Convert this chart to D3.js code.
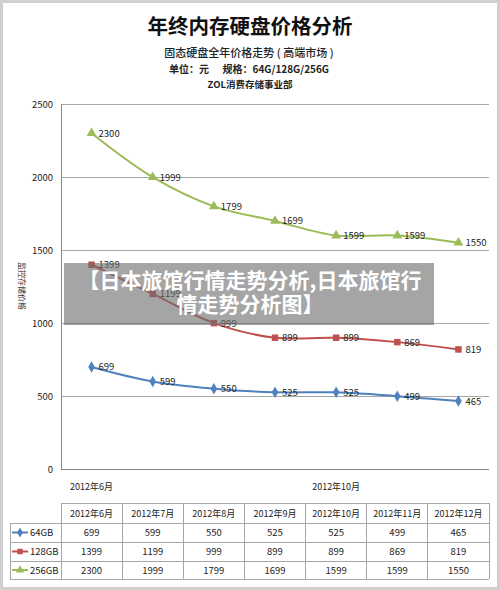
<!DOCTYPE html>
<html>
<head>
<meta charset="utf-8">
<script src="https://cdn.jsdelivr.net/npm/d3@7"></script>
<style>
  body { margin: 0; background: #fff; }
  svg { display: block; font-family: "Microsoft YaHei", "Noto Sans CJK SC", sans-serif; }
</style>
</head>
<body>
<svg width="500" height="590"></svg>
<script>
// data
var months = ["2012年6月", "2012年7月", "2012年8月", "2012年9月", "2012年10月", "2012年11月", "2012年12月"];
var series = ["64GB", "128GB", "256GB"];
var price64 = [699, 599, 550, 525, 525, 499, 465];
var price128 = [1399, 1199, 999, 899, 899, 869, 819];
var price256 = [2300, 1999, 1799, 1699, 1599, 1599, 1550];
var yTicks = [0, 500, 1000, 1500, 2000, 2500];
var axisMonths = ["2012年6月", "2012年10月"];

var colors = ["#4f81bd", "#c0504d", "#9bbb59"];
var shapes = [d3.symbolDiamond, d3.symbolSquare, d3.symbolTriangle];
var values = [price64, price128, price256];

var svg = d3.select("svg"),
    width = +svg.attr("width"),
    height = +svg.attr("height");

// outer frame
svg.append("rect").attr("x", 1.5).attr("y", 1.5).attr("width", width - 3).attr("height", height - 3)
    .attr("fill", "#fff").attr("stroke", "#cfcfcf").attr("stroke-width", 3);

// titles
svg.append("text").attr("x", 250).attr("y", 34).attr("text-anchor", "middle")
    .style("font-size", "20.5px").style("font-weight", "bold").attr("fill", "#111").text("年终内存硬盘价格分析");
svg.append("text").attr("x", 249).attr("y", 57).attr("text-anchor", "middle")
    .style("font-size", "11px").style("font-weight", "500").attr("fill", "#222")
    .attr("xml:space", "preserve").text("固态硬盘全年价格走势 ( 高端市场 )");
svg.append("text").attr("x", 249).attr("y", 73).attr("text-anchor", "middle")
    .style("font-size", "10px").style("font-weight", "bold").attr("fill", "#222")
    .attr("xml:space", "preserve").text("单位：元      规格：64G/128G/256G");
svg.append("text").attr("x", 250).attr("y", 88).attr("text-anchor", "middle")
    .style("font-size", "9.5px").style("font-weight", "bold").attr("fill", "#222").text("ZOL消费存储事业部");

var plotL = 61, plotR = 489, plotT = 104, plotB = 469;

var x = d3.scaleBand().domain(months).range([plotL, plotR]);
var y = d3.scaleLinear().domain([0, 2500]).range([plotB, plotT]);
var cx = function(m) { return x(m) + x.bandwidth() / 2; };

// grid
svg.append("g").selectAll("line").data(yTicks).enter().append("line")
    .attr("x1", plotL).attr("x2", plotR)
    .attr("y1", function(d) { return y(d); }).attr("y2", function(d) { return y(d); })
    .attr("stroke", function(d) { return d === 0 ? "#888" : "#a6a6a6"; }).attr("stroke-width", 1)
    .attr("shape-rendering", "crispEdges");
svg.append("line").attr("x1", plotL).attr("x2", plotL).attr("y1", plotT).attr("y2", plotB)
    .attr("stroke", "#888").attr("shape-rendering", "crispEdges");

svg.append("g").selectAll("text").data(yTicks).enter().append("text")
    .attr("x", plotL - 8).attr("y", function(d) { return y(d) + 3.5; })
    .attr("text-anchor", "end").style("font-size", "9.5px").attr("fill", "#222")
    .text(function(d) { return d; });

svg.append("text").attr("transform", "translate(19,286) rotate(90)")
    .attr("text-anchor", "middle").style("font-size", "8px").attr("fill", "#333")
    .text("监控存储价格");

svg.append("g").selectAll("text").data(axisMonths).enter().append("text")
    .attr("x", cx).attr("y", 490)
    .attr("text-anchor", "middle").style("font-size", "9px").attr("fill", "#222")
    .text(function(d) { return d; });

// lines
var line = d3.line()
    .x(function(d, i) { return cx(months[i]); })
    .y(function(d) { return y(d); })
    .curve(d3.curveCatmullRom.alpha(0.5));

values.forEach(function(vals, s) {
  var g = svg.append("g");
  g.append("path").datum(vals).attr("d", line)
      .attr("fill", "none").attr("stroke", colors[s]).attr("stroke-width", 2);
  g.selectAll("path.m").data(vals).enter().append("path").attr("class", "m")
      .attr("d", d3.symbol().type(shapes[s]).size(s === 0 ? 38 : 42))
      .attr("transform", function(d, i) { return "translate(" + cx(months[i]) + "," + y(d) + ")"; })
      .attr("fill", colors[s]);
  g.selectAll("text").data(vals).enter().append("text")
      .attr("x", function(d, i) { return cx(months[i]) + 7; })
      .attr("y", function(d) { return y(d) + 3.5; })
      .style("font-size", "9.5px").attr("fill", "#222")
      .text(function(d) { return d; });
});

// data table
var tTop = 503, rowH = [20, 19, 19, 18];
var rowY = [tTop];
rowH.forEach(function(h, i) { rowY.push(rowY[i] + h); });
var tb = svg.append("g").attr("shape-rendering", "crispEdges");
rowY.forEach(function(yy, i) {
  tb.append("line").attr("x1", i === 0 ? plotL : 10).attr("x2", plotR).attr("y1", yy).attr("y2", yy)
      .attr("stroke", "#a6a6a6");
});
tb.append("line").attr("x1", 10).attr("x2", 10).attr("y1", rowY[1]).attr("y2", rowY[4]).attr("stroke", "#a6a6a6");
months.forEach(function(m) {
  tb.append("line").attr("x1", x(m)).attr("x2", x(m)).attr("y1", tTop).attr("y2", rowY[4]).attr("stroke", "#a6a6a6");
});
tb.append("line").attr("x1", plotR).attr("x2", plotR).attr("y1", tTop).attr("y2", rowY[4]).attr("stroke", "#a6a6a6");

svg.append("g").selectAll("text").data(months).enter().append("text")
    .attr("x", cx).attr("y", tTop + 14)
    .attr("text-anchor", "middle").style("font-size", "9px").attr("fill", "#222")
    .text(function(d) { return d; });

values.forEach(function(vals, s) {
  var ry = (rowY[s + 1] + rowY[s + 2]) / 2;
  svg.append("line").attr("x1", 12).attr("x2", 28).attr("y1", ry).attr("y2", ry)
      .attr("stroke", colors[s]).attr("stroke-width", 2);
  svg.append("path").attr("d", d3.symbol().type(shapes[s]).size(30))
      .attr("transform", "translate(20," + ry + ")").attr("fill", colors[s]);
  svg.append("text").attr("x", 30).attr("y", ry + 3.5).style("font-size", "9.5px").attr("fill", "#222")
      .text(series[s]);
  svg.append("g").selectAll("text").data(vals).enter().append("text")
      .attr("x", function(d, i) { return cx(months[i]); }).attr("y", ry + 3.5)
      .attr("text-anchor", "middle").style("font-size", "9.5px").attr("fill", "#222")
      .text(function(d) { return d; });
});

// overlay banner
svg.append("rect").attr("x", 64).attr("y", 263).attr("width", 370).attr("height", 62)
    .attr("fill", "rgba(110,110,110,0.62)");
var banner = ["【日本旅馆行情走势分析,日本旅馆行", "情走势分析图】"];
svg.append("g").selectAll("text").data(banner).enter().append("text")
    .attr("x", 250).attr("y", function(d, i) { return 288 + i * 24; })
    .attr("text-anchor", "middle").style("font-size", "21px").style("font-weight", "bold").attr("fill", "#fff")
    .text(function(d) { return d; });
</script>
</body>
</html>
